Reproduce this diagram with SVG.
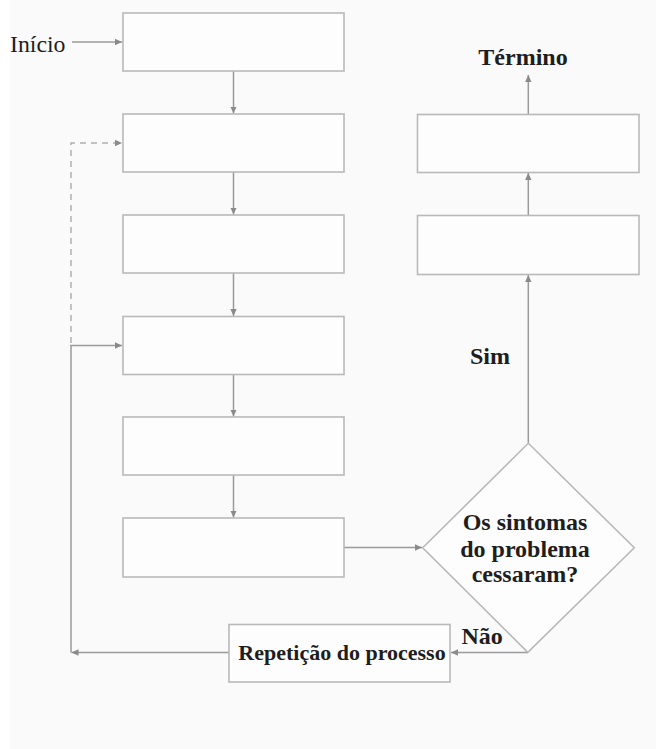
<svg xmlns="http://www.w3.org/2000/svg" width="656" height="749" viewBox="0 0 656 749">
<style>
.box{fill:#fdfdfd;stroke:#b9b9b9;stroke-width:1.6}
.ln{fill:none;stroke:#9a9a9a;stroke-width:1.5}
.dash{fill:none;stroke:#b0b0b0;stroke-width:1.5;stroke-dasharray:6,5}
.t{font-family:"Liberation Serif","Times New Roman",serif;fill:#1e1e1e}
.b{font-weight:bold;font-size:24px}
</style>
<defs>
<marker id="ah" markerWidth="8" markerHeight="8" refX="7" refY="4" orient="auto" markerUnits="userSpaceOnUse">
<path d="M0,0.8 L7,4 L0,7.2 Z" fill="#8a8a8a"/>
</marker>
</defs>
<rect x="0" y="0" width="656" height="749" fill="#ffffff"/>
<rect x="10" y="0" width="646" height="749" fill="#fafafa"/>
<g id="connectors">
<line class="ln" x1="72" y1="42" x2="122" y2="42" marker-end="url(#ah)"/>
<line class="ln" x1="233.5" y1="71" x2="233.5" y2="113.5" marker-end="url(#ah)"/>
<line class="ln" x1="233.5" y1="172" x2="233.5" y2="214.5" marker-end="url(#ah)"/>
<line class="ln" x1="233.5" y1="273" x2="233.5" y2="316" marker-end="url(#ah)"/>
<line class="ln" x1="233.5" y1="374.5" x2="233.5" y2="416.5" marker-end="url(#ah)"/>
<line class="ln" x1="233.5" y1="475" x2="233.5" y2="517.5" marker-end="url(#ah)"/>
<line class="ln" x1="344" y1="547.5" x2="422" y2="547.5" marker-end="url(#ah)"/>
<polyline class="ln" points="528,652.5 451,652.5" marker-end="url(#ah)"/>
<polyline class="ln" points="229,652.5 71.5,652.5" marker-end="url(#ah)"/>
<polyline class="ln" points="71,652.5 71,345.5 122,345.5" marker-end="url(#ah)"/>
<polyline class="dash" points="71,343 71,143 122,143" marker-end="url(#ah)"/>
<line class="ln" x1="528.3" y1="443" x2="528.3" y2="275" marker-end="url(#ah)"/>
<line class="ln" x1="528.3" y1="215.5" x2="528.3" y2="173" marker-end="url(#ah)"/>
<line class="ln" x1="528.3" y1="114.5" x2="528.3" y2="75" marker-end="url(#ah)"/>
</g>
<g id="inicio"><text class="t" x="10" y="51.5" font-size="23.8">Início</text></g>
<g id="box1"><rect class="box" x="123" y="13" width="221" height="58"/></g>
<g id="box2"><rect class="box" x="123" y="114" width="221" height="58"/></g>
<g id="box3"><rect class="box" x="123" y="215" width="221" height="58"/></g>
<g id="box4"><rect class="box" x="123" y="316.5" width="221" height="58"/></g>
<g id="box5"><rect class="box" x="123" y="417" width="221" height="58"/></g>
<g id="box6"><rect class="box" x="123" y="518" width="221" height="59"/></g>
<g id="decision">
<polygon class="box" points="528.3,443.3 634.3,547.8 527.8,652.3 422.7,547.8"/>
<text class="t b" x="525" y="530" text-anchor="middle">Os sintomas</text>
<text class="t b" x="525" y="556.5" text-anchor="middle">do problema</text>
<text class="t b" x="525" y="582" text-anchor="middle">cessaram?</text>
</g>
<g id="repeticao">
<rect class="box" x="229" y="624.5" width="221" height="57.5"/>
<text class="t" x="342" y="660" font-size="22" font-weight="bold" text-anchor="middle">Repetição do processo</text>
</g>
<g id="nao"><text class="t b" x="461.5" y="644">Não</text></g>
<g id="sim"><text class="t b" x="470" y="364">Sim</text></g>
<g id="boxR1"><rect class="box" x="417.5" y="114.5" width="221.5" height="58"/></g>
<g id="boxR2"><rect class="box" x="417.5" y="215.5" width="221.5" height="59"/></g>
<g id="termino"><text class="t b" x="523" y="65" text-anchor="middle">Término</text></g>
</svg>
